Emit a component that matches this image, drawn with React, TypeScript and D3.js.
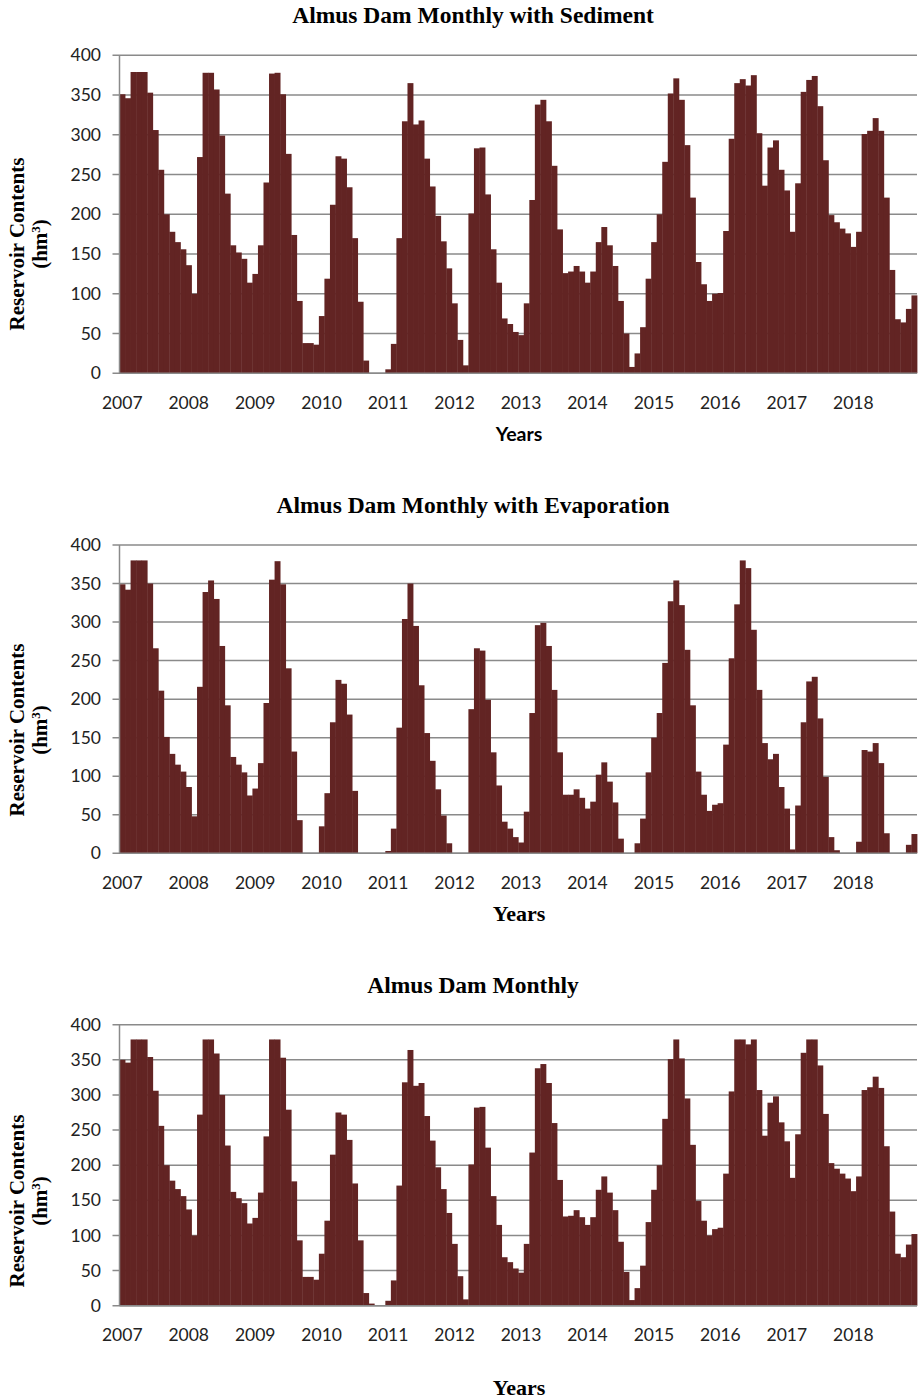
import * as d3 from 'd3';

const years = ['2007', '2008', '2009', '2010', '2011', '2012', '2013', '2014', '2015', '2016', '2017', '2018'];
const yTicks = [0, 50, 100, 150, 200, 250, 300, 350, 400];

// monthly reservoir contents (hm3), Jan 2007 .. Dec 2018
const sediment = [
  351, 346, 379, 379, 379, 353, 306, 256, 200, 178, 165, 156,
  136, 100, 272, 378, 378, 357, 299, 226, 161, 152, 144, 114,
  125, 161, 240, 377, 378, 351, 276, 174, 91, 38, 38, 36,
  72, 119, 212, 273, 270, 234, 170, 90, 16, 0, 0, 0,
  5, 37, 170, 317, 365, 313, 318, 270, 235, 198, 166, 132,
  88, 42, 10, 201, 283, 284, 225, 156, 114, 69, 62, 52,
  48, 88, 218, 338, 344, 317, 261, 181, 126, 128, 135, 128,
  114, 128, 165, 184, 161, 135, 91, 50, 8, 25, 58, 119,
  165, 200, 266, 352, 371, 344, 287, 221, 140, 112, 91, 100,
  101, 179, 295, 365, 370, 362, 375, 302, 236, 284, 293, 256,
  230, 178, 239, 354, 369, 374, 336, 268, 199, 190, 182, 176,
  159, 178, 301, 305, 321, 305, 221, 130, 68, 64, 81, 98,
];

const evaporation = [
  349, 342, 380, 380, 380, 350, 266, 211, 151, 129, 115, 106,
  86, 48, 216, 339, 354, 330, 269, 192, 125, 115, 105, 75,
  84, 117, 195, 355, 379, 349, 240, 132, 43, 0, 0, 0,
  35, 78, 170, 225, 220, 180, 81, 0, 0, 0, 0, 0,
  3, 32, 163, 304, 350, 295, 218, 156, 120, 83, 49, 13,
  0, 0, 0, 187, 266, 263, 199, 131, 88, 41, 32, 21,
  14, 54, 182, 296, 299, 269, 212, 131, 76, 76, 83, 72,
  58, 67, 102, 118, 93, 66, 19, 0, 0, 13, 45, 105,
  150, 182, 247, 327, 354, 322, 264, 192, 106, 76, 55, 63,
  65, 141, 253, 323, 380, 370, 290, 212, 143, 122, 129, 86,
  58, 5, 62, 170, 223, 229, 175, 99, 21, 4, 0, 0,
  0, 15, 134, 132, 143, 117, 26, 0, 0, 0, 11, 25,
];

const monthly = [
  350, 346, 379, 379, 379, 354, 306, 256, 200, 178, 166, 156,
  137, 100, 272, 379, 379, 359, 300, 228, 162, 153, 146, 117,
  125, 161, 241, 379, 379, 353, 279, 177, 93, 41, 41, 37,
  74, 121, 215, 275, 272, 236, 174, 93, 18, 3, 1, 0,
  7, 36, 171, 318, 364, 313, 317, 270, 235, 197, 166, 132,
  88, 42, 9, 201, 282, 283, 225, 156, 115, 69, 62, 53,
  47, 88, 218, 338, 344, 317, 260, 179, 127, 128, 136, 126,
  115, 126, 165, 184, 161, 136, 91, 48, 8, 25, 57, 119,
  165, 200, 266, 351, 379, 352, 295, 229, 149, 121, 100, 109,
  111, 188, 305, 379, 379, 372, 379, 307, 242, 289, 298, 261,
  234, 182, 244, 360, 379, 379, 342, 273, 203, 195, 188, 181,
  163, 184, 307, 311, 326, 310, 227, 134, 74, 69, 87, 102,
];

const panels = [
  { title: 'Almus Dam Monthly with Sediment', values: sediment, top: 55.3, bottom: 373.3, titleY: 23, tickY: 409, xTitleY: 441, xTitleSerif: false, yTitleY: 244 },
  { title: 'Almus Dam Monthly with Evaporation', values: evaporation, top: 545, bottom: 853.3, titleY: 513, tickY: 889, xTitleY: 921, xTitleSerif: true, yTitleY: 730 },
  { title: 'Almus Dam Monthly', values: monthly, top: 1024.7, bottom: 1305.7, titleY: 993, tickY: 1341, xTitleY: 1395, xTitleSerif: true, yTitleY: 1201 },
];

const BAR = '#622423';
const GRID = '#8a8a8a';
const SANS = 'Lato, "Open Sans", sans-serif';
const SERIF = '"Liberation Serif", "DejaVu Serif", serif';

function Panel({ p }: { p: typeof panels[number] }) {
  const x = d3.scaleBand<number>().domain(d3.range(p.values.length)).range([119.5, 917]).padding(0);
  const y = d3.scaleLinear().domain([0, 400]).range([p.bottom, p.top]);
  const [x0, x1] = x.range();

  return (
    <g>
      <text x={473} y={p.titleY} textAnchor="middle" fontFamily={SERIF} fontWeight="bold" fontSize={23.5} fill="#000">
        {p.title}
      </text>

      {yTicks.map(t => (
        <g key={t}>
          <line x1={x0 - 7} x2={x1} y1={y(t)} y2={y(t)} stroke={GRID} strokeWidth={1.5} />
          <text x={101} y={y(t)} dy="0.35em" textAnchor="end" fontFamily={SANS} fontSize={17.5} fill="#222">
            {t}
          </text>
        </g>
      ))}

      {p.values.map((v, i) => (
        <rect key={i} x={x(i)} y={y(v)} width={x.bandwidth() + 0.4} height={y(0) - y(v)} fill={BAR} />
      ))}

      <line x1={x0} x2={x0} y1={p.top} y2={p.bottom} stroke={GRID} strokeWidth={1.5} />
      <line x1={x0} x2={x1} y1={p.bottom} y2={p.bottom} stroke={GRID} strokeWidth={1.5} />

      {years.map((yr, k) => (
        <text key={yr} x={(x(k * 12) as number) + x.bandwidth() / 2} y={p.tickY} textAnchor="middle" fontFamily={SANS} fontSize={17.5} fill="#222">
          {yr}
        </text>
      ))}

      <text x={519} y={p.xTitleY} textAnchor="middle" fontFamily={p.xTitleSerif ? SERIF : SANS} fontWeight="bold" fontSize={p.xTitleSerif ? 22 : 19.5} fill="#000">
        Years
      </text>

      <g transform={`translate(24,${p.yTitleY}) rotate(-90)`}>
        <text x={0} y={0} textAnchor="middle" fontFamily={SERIF} fontWeight="bold" fontSize={21} fill="#000">
          Reservoir Contents
        </text>
        <text x={0} y={23} textAnchor="middle" fontFamily={SERIF} fontWeight="bold" fontSize={21} fill="#000">
          (hm<tspan dy={-7} fontSize={13}>3</tspan><tspan dy={7}>)</tspan>
        </text>
      </g>
    </g>
  );
}

export default function App() {
  return (
    <svg width={920} height={1400} style={{ position: 'absolute', left: 0, top: 0, background: '#fff' }}>
      <rect width={920} height={1400} fill="#fff" />
      {panels.map(p => (
        <Panel key={p.title} p={p} />
      ))}
    </svg>
  );
}
